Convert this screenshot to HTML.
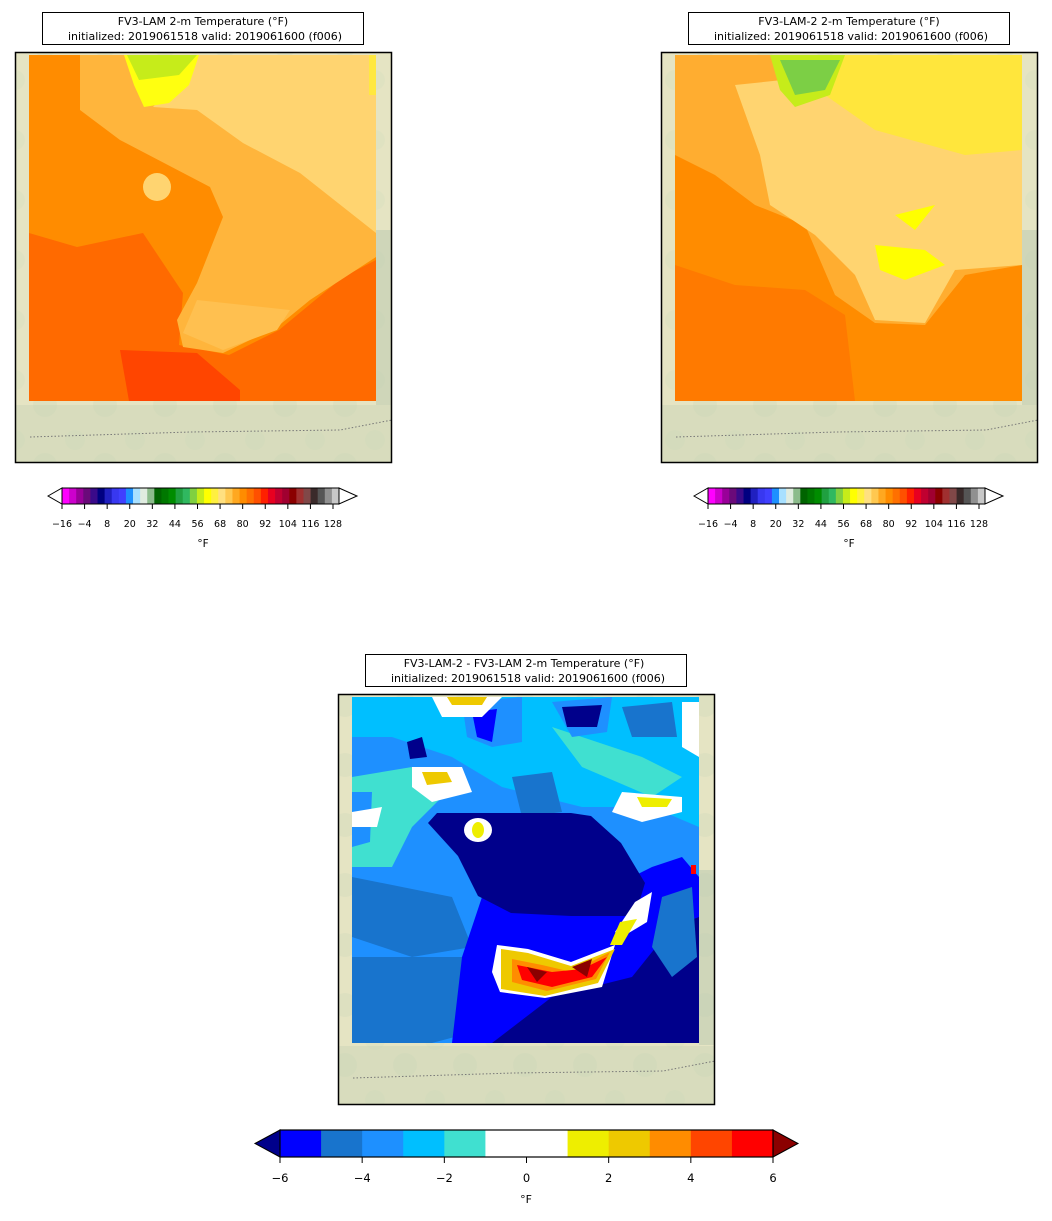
<!DOCTYPE html>
<html><head><meta charset="utf-8"><style>
body{margin:0;background:#fff;width:1052px;height:1221px;overflow:hidden;font-family:"Liberation Sans","DejaVu Sans",sans-serif}
svg{display:block}
text{font-family:"DejaVu Sans","Liberation Sans",sans-serif;fill:#000}
</style></head><body>
<svg id="root" width="1052" height="1221" viewBox="0 0 1052 1221">
<defs>
<pattern id="terrain" width="60" height="60" patternUnits="userSpaceOnUse">
<rect width="60" height="60" fill="#e5e4c3"/>
<circle cx="15" cy="20" r="10" fill="#dadfc0" opacity="0.5"/>
<circle cx="45" cy="45" r="12" fill="#d3dabb" opacity="0.4"/>
</pattern>
</defs>

<!-- ===== Map 1 ===== -->
<g>
<rect x="42.5" y="12.5" width="321" height="32" fill="#fff" stroke="#000"/>
<text x="203" y="25" font-size="11" text-anchor="middle">FV3-LAM 2-m Temperature (°F)</text>
<text x="205" y="40" font-size="11" text-anchor="middle">initialized: 2019061518 valid: 2019061600 (f006)</text>
<rect x="15" y="52" width="377" height="411" fill="url(#terrain)"/>
<rect x="15" y="405" width="377" height="58" fill="#c8d3b5" opacity="0.45"/>
<rect x="376" y="230" width="16" height="175" fill="#b9c8b0" opacity="0.5"/>
<path d="M30 437 L190 432 L340 430 L392 420" stroke="#777" stroke-dasharray="1.5 2" fill="none"/>
<g transform="translate(29,55)">
<rect width="347" height="346" fill="#ff8c00"/>
<polygon points="0,178 48,192 114,178 154,238 150,290 200,300 250,275 314,222 347,205 347,346 0,346" fill="#ff6a00"/>
<polygon points="91,295 168,298 211,335 211,346 100,346" fill="#ff4500"/>
<polygon points="51,0 347,0 347,202 281,245 248,272 194,298 154,292 148,265 168,228 194,162 181,132 91,85 51,55" fill="#ffb53c"/>
<polygon points="168,245 261,255 248,275 194,295 154,278" fill="#ffc050"/>
<polygon points="168,0 347,0 347,178 271,118 214,88 168,55 124,52 150,25" fill="#ffd470"/>
<ellipse cx="128" cy="132" rx="14" ry="14" fill="#ffd470"/>
<polygon points="95,0 170,0 160,30 140,48 115,52 105,30" fill="#ffff10"/>
<polygon points="98,0 168,0 150,20 110,25" fill="#c6ec1a"/>
<rect x="340" y="0" width="7" height="40" fill="#ffe840"/>
</g>
<rect x="15.5" y="52.5" width="376" height="410" fill="none" stroke="#000" stroke-width="1.5"/>
</g>

<!-- ===== Map 2 ===== -->
<g>
<rect x="688.5" y="12.5" width="321" height="32" fill="#fff" stroke="#000"/>
<text x="849" y="25" font-size="11" text-anchor="middle">FV3-LAM-2 2-m Temperature (°F)</text>
<text x="851" y="40" font-size="11" text-anchor="middle">initialized: 2019061518 valid: 2019061600 (f006)</text>
<rect x="661" y="52" width="377" height="411" fill="url(#terrain)"/>
<rect x="661" y="405" width="377" height="58" fill="#c8d3b5" opacity="0.45"/>
<rect x="1022" y="230" width="16" height="175" fill="#b9c8b0" opacity="0.5"/>
<path d="M676 437 L836 432 L986 430 L1038 420" stroke="#777" stroke-dasharray="1.5 2" fill="none"/>
<g transform="translate(675,55)">
<rect width="347" height="346" fill="#ff8c00"/>
<polygon points="0,210 60,230 130,235 170,260 180,346 0,346" fill="#ff7a00"/>
<polygon points="0,0 347,0 347,210 290,220 250,270 200,268 160,240 130,170 80,150 40,120 0,100" fill="#ffad30"/>
<polygon points="60,30 347,0 347,210 280,215 250,268 200,265 180,220 140,180 95,150 85,100" fill="#ffd470"/>
<polygon points="150,0 347,0 347,95 290,100 200,75 150,40" fill="#ffe63c"/>
<polygon points="220,160 260,150 240,175" fill="#ffff00"/>
<polygon points="200,190 250,195 270,210 230,225 205,215" fill="#ffff00"/>
<polygon points="95,0 170,0 155,40 120,52 105,35" fill="#c6ec1a"/>
<polygon points="105,5 165,5 150,35 120,40" fill="#7ccf45"/>
</g>
<rect x="661.5" y="52.5" width="376" height="410" fill="none" stroke="#000" stroke-width="1.5"/>
</g>

<!-- ===== Map 3 ===== -->
<g>
<rect x="365.5" y="654.5" width="321" height="32" fill="#fff" stroke="#000"/>
<text x="524" y="667" font-size="11" text-anchor="middle">FV3-LAM-2 - FV3-LAM 2-m Temperature (°F)</text>
<text x="528" y="682" font-size="11" text-anchor="middle">initialized: 2019061518 valid: 2019061600 (f006)</text>
<rect x="338" y="694" width="377" height="411" fill="url(#terrain)"/>
<rect x="338" y="1046" width="377" height="58" fill="#c8d3b5" opacity="0.45"/>
<rect x="699" y="870" width="16" height="175" fill="#b9c8b0" opacity="0.5"/>
<path d="M353 1078 L513 1073 L663 1071 L715 1061" stroke="#777" stroke-dasharray="1.5 2" fill="none"/>
<g transform="translate(352,697)">
<rect width="347" height="346" fill="#1e90ff"/>
<polygon points="0,80 60,70 100,90 60,130 40,170 0,170" fill="#40e0d0"/>
<polygon points="0,0 347,0 347,130 300,110 230,110 150,90 100,60 40,40 0,40" fill="#00bfff"/>
<polygon points="200,30 290,60 330,80 300,100 230,70" fill="#40e0d0"/>
<polygon points="110,5 170,0 170,45 140,50 115,40" fill="#1e90ff"/>
<polygon points="120,15 145,12 140,45 125,40" fill="#0000ff"/>
<polygon points="200,5 260,0 255,35 220,40" fill="#1e90ff"/>
<polygon points="210,10 250,8 245,30 215,30" fill="#00008b"/>
<polygon points="270,10 320,5 325,40 280,40" fill="#1874cd"/>
<polygon points="0,95 20,95 18,145 0,150" fill="#1e90ff"/>
<polygon points="55,45 70,40 75,60 58,62" fill="#00008b"/>
<polygon points="160,80 200,75 210,115 170,120" fill="#1874cd"/>
<polygon points="0,180 100,200 120,250 60,260 0,240" fill="#1874cd"/>
<polygon points="0,260 110,260 140,330 80,346 0,346" fill="#1874cd"/>
<polygon points="130,200 240,200 300,170 330,160 347,180 347,346 100,346 110,260" fill="#0000ff"/>
<polygon points="140,346 200,300 280,280 320,230 347,220 347,346" fill="#00008b"/>
<polygon points="310,200 340,190 345,260 320,280 300,250" fill="#1874cd"/>
<polygon points="85,116 219,116 239,119 269,146 293,186 283,219 219,219 159,216 126,199 106,159 76,126" fill="#00008b"/>
<polygon points="270,95 330,100 330,115 290,125 260,115" fill="#ffffff"/>
<polygon points="285,100 320,102 315,110 290,110" fill="#eeee00"/>
<polygon points="60,70 110,70 120,95 80,105 60,90" fill="#ffffff"/>
<polygon points="70,75 95,75 100,85 75,88" fill="#eec900"/>
<ellipse cx="126" cy="133" rx="14" ry="12" fill="#ffffff"/>
<ellipse cx="126" cy="133" rx="6" ry="8" fill="#eeee00"/>
<polygon points="80,0 150,0 130,20 90,20" fill="#ffffff"/>
<polygon points="95,0 135,0 130,8 100,8" fill="#eec900"/>
<polygon points="0,115 30,110 25,130 0,130" fill="#ffffff"/>
<polygon points="330,5 347,5 347,60 330,50" fill="#ffffff"/>
<polygon points="283,205 300,195 295,225 270,240 263,235" fill="#ffffff"/>
<polygon points="268,225 285,222 270,248 258,248" fill="#eeee00"/>
<polygon points="145,248 176,252 219,265 263,248 250,290 193,301 148,295 140,275" fill="#ffffff"/>
<polygon points="149,252 176,256 219,269 263,252 246,286 193,299 149,292" fill="#eec900"/>
<polygon points="160,262 190,268 220,275 258,255 244,282 195,294 160,285" fill="#ff8c00"/>
<polygon points="165,268 200,275 230,272 255,260 240,280 200,290 170,283" fill="#ff0000"/>
<polygon points="175,270 195,275 185,285" fill="#8b0000"/>
<polygon points="220,270 240,262 235,280" fill="#8b0000"/>
<rect x="339" y="168" width="5" height="9" fill="#ff0000"/>
</g>
<rect x="338.5" y="694.5" width="376" height="410" fill="none" stroke="#000" stroke-width="1.5"/>
</g>

<g id="cb1"></g>
<g id="cb2"></g>
<g id="cb3"></g>
</svg>
<script>
const tempTicks = [-16,-4,8,20,32,44,56,68,80,92,104,116,128];
const tempColors = ["#ff00ff","#cc00cc","#990099","#6a0a7a","#3a0a8a","#000080","#2020c0","#3838f0","#4040ff","#1e90ff","#a8e0ff","#e0ece0","#8cbc8c","#006400","#007800","#008c00","#20a040","#30b860","#80d040","#c6ec1a","#ffff00","#fff040","#ffe080","#ffc850","#ffa820","#ff8c00","#ff7000","#ff5000","#ff2000","#e80020","#c00030","#a00030","#8b0000","#a03030","#804848","#3a2a2a","#555555","#909090","#c8c8c8"];
const diffTicks = [-6,-4,-2,0,2,4,6];
const diffBounds = [-6,-5,-4,-3,-2,-1,0,1,2,3,4,5,6];
const diffColors = ["#0000ff","#1874cd","#1e90ff","#00bfff","#40e0d0","#ffffff","#ffffff","#eeee00","#eec900","#ff8c00","#ff4500","#ff0000"];
const NS="http://www.w3.org/2000/svg";
function mk(tag,attrs,parent){const e=document.createElementNS(NS,tag);for(const k in attrs)e.setAttribute(k,attrs[k]);parent.appendChild(e);return e;}

function tempBar(g,x0){
  const vmin=-16, pxPer=(333-62)/144;
  const sx=v=>x0+(v-vmin)*pxPer;
  const n=tempColors.length, y=488,h=16;
  const xEnd=x0+277;
  const cw=(xEnd-x0)/n;
  const l=mk('polygon',{points:`${x0-14},${y+h/2} ${x0},${y} ${x0},${y+h}`,fill:'#ffffff',stroke:'#000'},g);
  
  
  for(let i=0;i<n;i++){
    const r=mk('rect',{x:x0+i*cw,y:y,width:cw+0.4,height:h,fill:tempColors[i]},g);
    
    
  }
  const rt=mk('polygon',{points:`${xEnd},${y} ${xEnd+18},${y+h/2} ${xEnd},${y+h}`,fill:'#ffffff',stroke:'#000'},g);
  
  
  mk('rect',{x:x0,y:y,width:xEnd-x0,height:h,fill:'none',stroke:'#000'},g);
  tempTicks.forEach(t=>{
    const x=sx(t);
    mk('line',{x1:x,x2:x,y1:y+h,y2:y+h+5,stroke:'#000'},g);
    const tx=mk('text',{x:x,y:527,'font-size':'9.5','text-anchor':'middle'},g);
    tx.textContent=String(t).replace('-','\u2212');
    
    
  });
  const lb=mk('text',{x:x0+141,y:547,'font-size':'10.5','text-anchor':'middle'},g);
  lb.textContent='°F';
  
  
}
tempBar(document.getElementById('cb1'),62);
tempBar(document.getElementById('cb2'),708);

(function(){
  const g=document.getElementById('cb3');
  const x0=280,x1=773,y=1130,h=27;
  const sx=v=>x0+(v+6)/12*(x1-x0);
  const l=mk('polygon',{points:`${x0-25},${y+h/2} ${x0},${y} ${x0},${y+h}`,fill:'#00008b',stroke:'#000'},g);
  
  
  for(let i=0;i<diffColors.length;i++){
    const r=mk('rect',{x:sx(diffBounds[i]),y:y,width:sx(diffBounds[i+1])-sx(diffBounds[i])+0.4,height:h,fill:diffColors[i]},g);
    
    
  }
  const rt=mk('polygon',{points:`${x1},${y} ${x1+25},${y+h/2} ${x1},${y+h}`,fill:'#8b0000',stroke:'#000'},g);
  
  
  mk('rect',{x:x0,y:y,width:x1-x0,height:h,fill:'none',stroke:'#000','stroke-width':1.2},g);
  diffTicks.forEach(t=>{
    const x=sx(t);
    mk('line',{x1:x,x2:x,y1:y+h,y2:y+h+6,stroke:'#000'},g);
    const tx=mk('text',{x:x,y:1182,'font-size':'11.5','text-anchor':'middle'},g);
    tx.textContent=String(t).replace('-','\u2212');
    
    
  });
  const lb=mk('text',{x:526,y:1203,'font-size':'11','text-anchor':'middle'},g);
  lb.textContent='°F';
  
  
})();
</script>
</body></html>
